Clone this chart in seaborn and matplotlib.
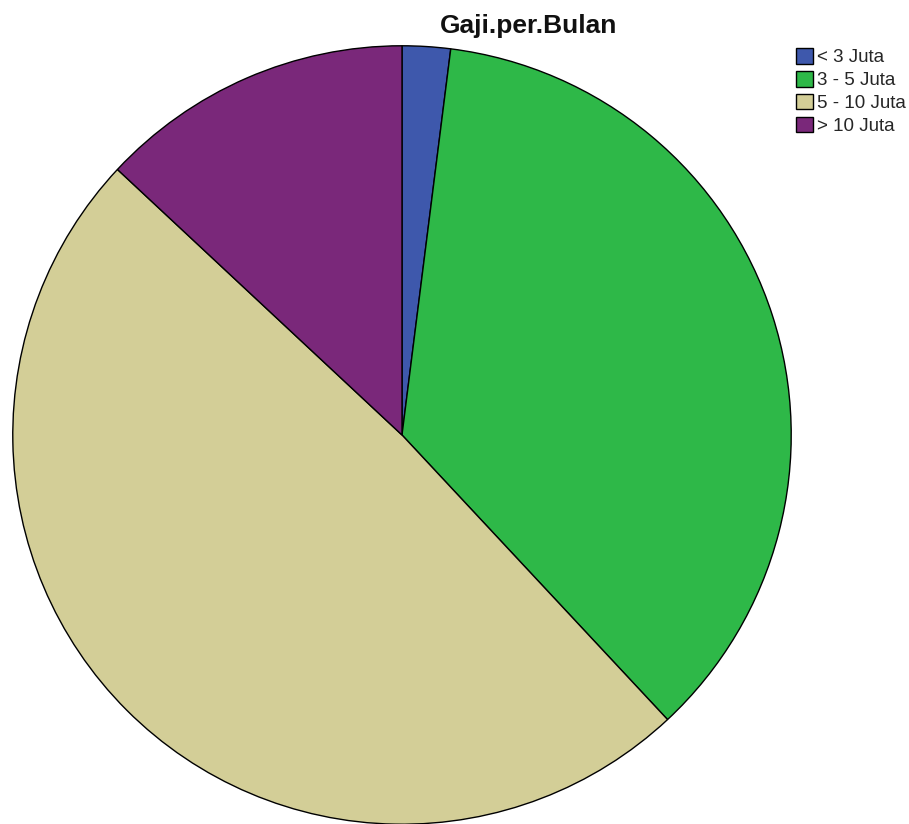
import matplotlib
matplotlib.use("Agg")
import matplotlib.pyplot as plt
import seaborn as sns

categories = ["< 3 Juta", "3 - 5 Juta", "5 - 10 Juta", "> 10 Juta"]
percents = [2.0, 36.05, 48.9, 13.05]
colors = ["#3E58AC", "#2EB848", "#D3CE97", "#7A287A"]

sns.set_theme(style="white")
plt.rcParams['font.family'] = ['Liberation Sans', 'DejaVu Sans']

fig = plt.figure(figsize=(9.09, 8.24), dpi=100)
R = 390
cx, cy = 402, 435
ax = fig.add_axes([(cx - R) / 909, (824 - cy - R) / 824, 2 * R / 909, 2 * R / 824])
wedges, _ = ax.pie(percents, colors=colors, startangle=90, counterclock=False,
                   radius=1, wedgeprops=dict(edgecolor="black", linewidth=1))
ax.set_xlim(-1.002, 1.002)
ax.set_ylim(-1.002, 1.002)
ax.set_aspect("auto")
ax.axis("off")

fig.text(529 / 909, 1 - 26 / 824, "Gaji.per.Bulan", ha="center", va="center",
         fontsize=19, fontweight="bold", color="#111111")

leg = fig.legend(wedges, categories, loc="upper left",
                 bbox_to_anchor=(796 / 909, 1 - 48 / 824), frameon=False,
                 fontsize=13.5, handlelength=0.9, handleheight=0.9,
                 handletextpad=0.2, labelspacing=0.25, borderpad=0.0,
                 borderaxespad=0.0)
for h in leg.legend_handles:
    h.set_edgecolor("black")
    h.set_linewidth(1)

fig.savefig("out.png", dpi=100)
